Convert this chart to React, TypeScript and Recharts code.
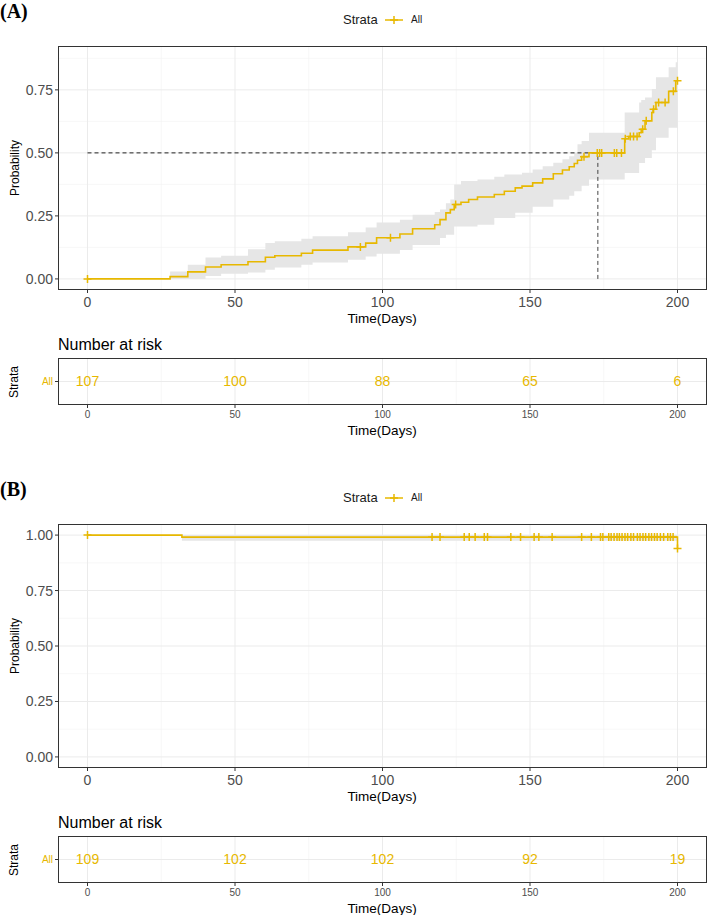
import React from "react";
import { ComposedChart, Area, Line, Scatter, XAxis, YAxis, CartesianGrid, ReferenceLine } from "recharts";

const YELLOW = "#E7B800";
const FONT = "'Liberation Sans', Arial, Helvetica, sans-serif";

// (A) cumulative probability, step times and values
const timesA = [0, 28, 34, 40, 45.3, 54.4, 60.3, 63.5, 72.5, 76.3, 88.3, 94.3, 98, 105.9, 110.2, 117.7, 119.5, 121.5, 123, 124.3, 126.6, 129.2, 132.2, 137.9, 141.3, 145, 147.3, 150.9, 154.3, 157.9, 161, 163.3, 165, 166.1, 167.5, 170, 182.1, 183.5, 187, 187.7, 189, 191.3, 191.7, 192.7, 197, 199.4, 200];
const probA = [0, 0.009, 0.028, 0.047, 0.056, 0.068, 0.086, 0.092, 0.102, 0.114, 0.127, 0.142, 0.163, 0.178, 0.199, 0.215, 0.235, 0.262, 0.275, 0.295, 0.304, 0.315, 0.325, 0.335, 0.348, 0.361, 0.368, 0.381, 0.397, 0.417, 0.432, 0.445, 0.458, 0.471, 0.485, 0.5, 0.556, 0.565, 0.58, 0.594, 0.627, 0.66, 0.673, 0.7, 0.744, 0.786, 0.786];
const lowerA = [0, 0, 0, 0.012, 0.02, 0.025, 0.036, 0.045, 0.056, 0.065, 0.076, 0.089, 0.1, 0.115, 0.135, 0.135, 0.162, 0.175, 0.175, 0.208, 0.208, 0.208, 0.215, 0.242, 0.242, 0.262, 0.262, 0.286, 0.286, 0.315, 0.315, 0.33, 0.348, 0.348, 0.37, 0.394, 0.42, 0.42, 0.46, 0.46, 0.48, 0.51, 0.51, 0.56, 0.6, 0.6, 0.6];
const upperA = [0, 0.029, 0.056, 0.085, 0.092, 0.118, 0.142, 0.149, 0.159, 0.169, 0.185, 0.204, 0.224, 0.235, 0.255, 0.265, 0.275, 0.3, 0.315, 0.375, 0.388, 0.388, 0.394, 0.405, 0.414, 0.414, 0.421, 0.434, 0.447, 0.461, 0.475, 0.487, 0.5, 0.534, 0.547, 0.58, 0.66, 0.66, 0.7, 0.71, 0.72, 0.753, 0.753, 0.8, 0.84, 0.86, 0.86];
const censorTimesA = [0, 92.5, 102.7, 124.8, 168.3, 172.8, 173.6, 174.3, 178.6, 179.4, 181.0, 182.3, 184.0, 185.1, 186.3, 188.2, 189.4, 191.9, 193.6, 195.8, 198.6, 200];
const censorProbA = [0, 0.127, 0.163, 0.295, 0.485, 0.5, 0.5, 0.5, 0.5, 0.5, 0.5, 0.556, 0.565, 0.565, 0.565, 0.594, 0.627, 0.673, 0.7, 0.7, 0.744, 0.786];
const medianA = 173;

// (B) survival probability
const timesB = [0, 32, 200];
const probB = [1, 0.991, 0.94];
const lowerB = [1, 0.975, 0.86];
const upperB = [1, 1, 1];
const censorTimesB = [0, 116.8, 119.5, 127.7, 129.4, 131.4, 134.5, 135.6, 143.5, 146.8, 151.4, 153, 157.5, 167.5, 170.8, 173.9, 174.7, 176.7, 177.5, 178.5, 179.5, 180.3, 181.2, 182.2, 183.1, 184.2, 185.1, 186.4, 187.3, 188.3, 189.2, 190.3, 191.2, 192.2, 193.1, 194.2, 195.3, 196.7, 197.6, 198.5, 200];
const censorProbB = [1, 0.991, 0.991, 0.991, 0.991, 0.991, 0.991, 0.991, 0.991, 0.991, 0.991, 0.991, 0.991, 0.991, 0.991, 0.991, 0.991, 0.991, 0.991, 0.991, 0.991, 0.991, 0.991, 0.991, 0.991, 0.991, 0.991, 0.991, 0.991, 0.991, 0.991, 0.991, 0.991, 0.991, 0.991, 0.991, 0.991, 0.991, 0.991, 0.991, 0.94];

// number at risk
const riskTimes = [0, 50, 100, 150, 200];
const riskA = [107, 100, 88, 65, 6];
const riskB = [109, 102, 102, 92, 19];

const xTicks = [0, 50, 100, 150, 200];
const xMinor = [25, 75, 125, 175];

const Plus = (props: any) => {
  const { cx, cy } = props;
  if (cx == null || cy == null) return null;
  return <path d={`M${cx - 4},${cy}H${cx + 4}M${cx},${cy - 4}V${cy + 4}`} stroke={YELLOW} strokeWidth={1.5} fill="none" />;
};

const RiskLabel = (props: any) => {
  const { cx, cy, payload } = props;
  return (
    <text x={cx} y={cy} dy="0.35em" textAnchor="middle" fill={YELLOW} fontSize={14}>
      {payload.n}
    </text>
  );
};

const abs = (left: number, top: number, extra: React.CSSProperties = {}): React.CSSProperties => ({
  position: "absolute", left, top, ...extra,
});

function Panel({ y0, tag, times, prob, lower, upper, cTimes, cProb, yDomain, yTicks, yMinor, median, risk }: any) {
  const rows = times.map((t: number, i: number) => ({ t, p: prob[i], band: [lower[i], upper[i]] }));
  const censor = cTimes.map((t: number, i: number) => ({ t, p: cProb[i] }));
  const riskRows = riskTimes.map((t, i) => ({ t, y: 0, n: risk[i] }));
  const axisTick = { fontSize: 14, fill: "#4d4d4d" };
  return (
    <>
      <div style={abs(0, y0 + 1, { fontFamily: "'Liberation Serif', 'Times New Roman', serif", fontWeight: "bold", fontSize: 20, lineHeight: "20px" })}>{tag}</div>
      <div style={abs(343, y0 + 12, { fontSize: 13, lineHeight: "16px", color: "#1a1a1a" })}>Strata</div>
      <svg style={abs(383, y0 + 12)} width={22} height={16}>
        <line x1={2} x2={20} y1={8} y2={8} stroke={YELLOW} strokeWidth={1.5} />
        <path d="M11,4V12M7,8H15" stroke={YELLOW} strokeWidth={1.5} />
      </svg>
      <div style={abs(411, y0 + 13, { fontSize: 10, lineHeight: "14px", color: "#1a1a1a" })}>All</div>

      <div style={abs(0, y0)}>
        <ComposedChart width={709} height={330} data={rows} margin={{ top: 46, right: 2, bottom: 10, left: 0 }}>
          <CartesianGrid horizontalValues={yMinor} verticalValues={xMinor} stroke="#f2f2f2" strokeWidth={0.6} />
          <CartesianGrid horizontalValues={yTicks} verticalValues={xTicks} stroke="#ebebeb" strokeWidth={1} />
          <XAxis dataKey="t" type="number" domain={[-10, 210]} ticks={xTicks} allowDataOverflow
            height={30} tickSize={3} tickMargin={4} axisLine={false} tickLine={{ stroke: "#333" }} tick={axisTick} />
          <YAxis type="number" domain={yDomain} ticks={yTicks} allowDataOverflow width={58}
            tickSize={3} tickMargin={2} axisLine={false} tickLine={{ stroke: "#333" }} tick={axisTick}
            tickFormatter={(v: number) => v.toFixed(2)} />
          <Area dataKey="band" type="stepAfter" stroke="none" fill="#e6e6e6" fillOpacity={1} isAnimationActive={false} />
          {median != null && (
            <ReferenceLine segment={[{ x: 0, y: 0.5 }, { x: median, y: 0.5 }]} stroke="#222" strokeDasharray="4 3" />
          )}
          {median != null && (
            <ReferenceLine segment={[{ x: median, y: 0 }, { x: median, y: 0.5 }]} stroke="#444" strokeDasharray="4 3" />
          )}
          <Line dataKey="p" type="stepAfter" stroke={YELLOW} strokeWidth={1.6} dot={false} isAnimationActive={false} />
          <Scatter data={censor} dataKey="p" shape={<Plus />} isAnimationActive={false} />
        </ComposedChart>
      </div>
      <div style={abs(58, y0 + 46, { width: 649, height: 244, border: "1px solid #333", boxSizing: "border-box" })} />
      <div style={abs(15, y0 + 168, { fontSize: 12, lineHeight: "14px", transform: "translate(-50%, -50%) rotate(-90deg)", whiteSpace: "nowrap" })}>Probability</div>
      <div style={abs(382, y0 + 319, { fontSize: 13.5, lineHeight: "16px", transform: "translate(-50%, -50%)", whiteSpace: "nowrap" })}>Time(Days)</div>

      <div style={abs(58, y0 + 336, { fontSize: 16, lineHeight: "18px" })}>Number at risk</div>
      <div style={abs(0, y0 + 300)}>
        <ComposedChart width={709} height={130} data={riskRows} margin={{ top: 58, right: 2, bottom: 9, left: 0 }}>
          <CartesianGrid horizontal={false} verticalValues={xMinor} stroke="#f2f2f2" strokeWidth={0.6} />
          <CartesianGrid horizontalValues={[0]} verticalValues={xTicks} stroke="#ebebeb" strokeWidth={1} />
          <XAxis dataKey="t" type="number" domain={[-10, 210]} ticks={xTicks} allowDataOverflow
            height={16} tickSize={3} tickMargin={3} axisLine={false} tickLine={{ stroke: "#333" }}
            tick={{ fontSize: 10, fill: "#4d4d4d" }} />
          <YAxis type="number" domain={[-1, 1]} ticks={[0]} allowDataOverflow width={58}
            tickSize={3} tickMargin={2} axisLine={false} tickLine={{ stroke: "#333" }}
            tick={{ fontSize: 10, fill: YELLOW }} tickFormatter={() => "All"} />
          <Scatter dataKey="y" shape={<RiskLabel />} isAnimationActive={false} />
        </ComposedChart>
      </div>
      <div style={abs(58, y0 + 358, { width: 649, height: 47, border: "1px solid #333", boxSizing: "border-box" })} />
      <div style={abs(14, y0 + 382, { fontSize: 12, lineHeight: "14px", transform: "translate(-50%, -50%) rotate(-90deg)", whiteSpace: "nowrap" })}>Strata</div>
      <div style={abs(382, y0 + 431, { fontSize: 13.5, lineHeight: "16px", transform: "translate(-50%, -50%)", whiteSpace: "nowrap" })}>Time(Days)</div>
    </>
  );
}

export default function App() {
  return (
    <div style={{ position: "absolute", left: 0, top: 0, width: 709, height: 915, background: "#fff", fontFamily: FONT, color: "#000" }}>
      <Panel y0={0} tag="(A)" times={timesA} prob={probA} lower={lowerA} upper={upperA}
        cTimes={censorTimesA} cProb={censorProbA} yDomain={[-0.044, 0.924]}
        yTicks={[0, 0.25, 0.5, 0.75]} yMinor={[0.125, 0.375, 0.625, 0.875]} median={medianA} risk={riskA} />
      <Panel y0={478} tag="(B)" times={timesB} prob={probB} lower={lowerB} upper={upperB}
        cTimes={censorTimesB} cProb={censorProbB} yDomain={[-0.05, 1.05]}
        yTicks={[0, 0.25, 0.5, 0.75, 1]} yMinor={[0.125, 0.375, 0.625, 0.875]} median={null} risk={riskB} />
    </div>
  );
}
